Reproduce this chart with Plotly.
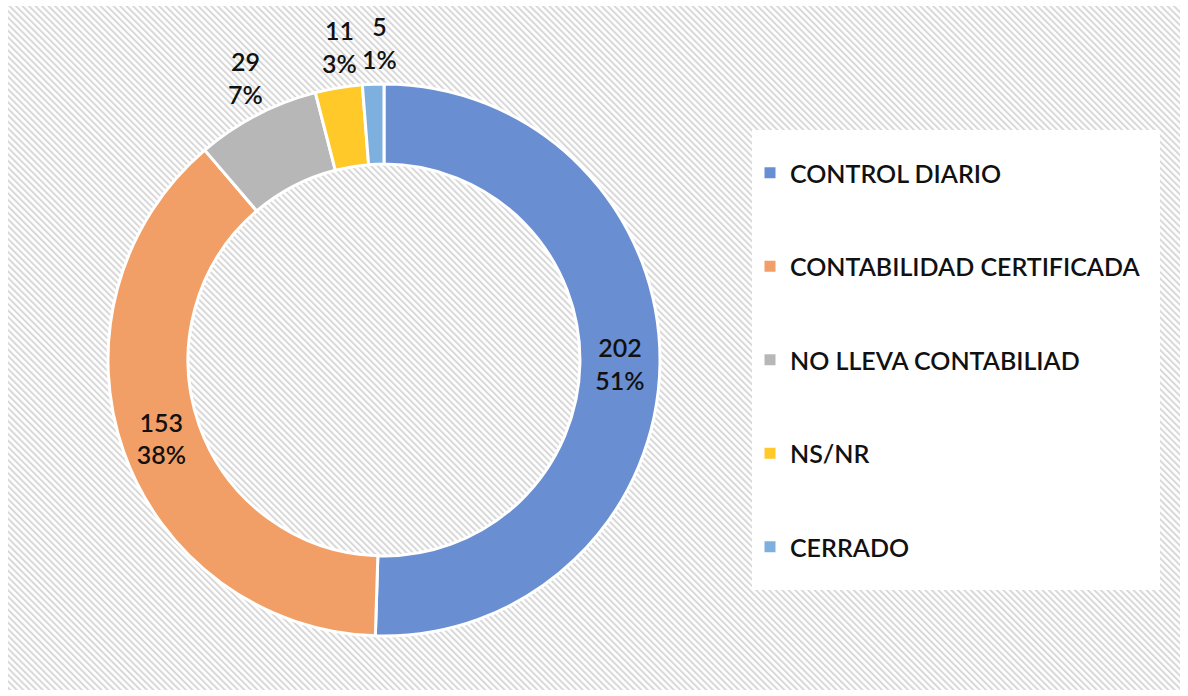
import base64
import math
import plotly.graph_objects as go

# ---- data ----
categories = ["CONTROL DIARIO", "CONTABILIDAD CERTIFICADA", "NO LLEVA CONTABILIAD", "NS/NR", "CERRADO"]
values = [202, 153, 29, 11, 5]
colors = ["#6A8ED2", "#F19F66", "#B7B7B7", "#FFC929", "#7EB0DF"]
label_inside = [True, True, False, False, False]

total = sum(values)
pct_labels = [f"{int(v * 100 / total + 0.5)}%" for v in values]

W, H = 1188, 696
FONT = "Lato"
FS = 25
FW = 600
TXT = "#111111"

# hatched background as svg
svg = f"""<svg xmlns='http://www.w3.org/2000/svg' width='1172' height='684'>
<defs><pattern id='p' width='4.6' height='4.6' patternUnits='userSpaceOnUse' patternTransform='rotate(-45)'>
<rect x='0' y='0' width='4.6' height='4.6' fill='#ffffff'/>
<rect x='0' y='0' width='2.0' height='4.6' fill='#d8d8d8'/></pattern></defs>
<rect x='0' y='0' width='1172' height='684' fill='url(#p)'/></svg>"""
src = "data:image/svg+xml;base64," + base64.b64encode(svg.encode()).decode()

cx, cy, R = 384, 360, 276

texts = [f"{v}<br>{p}" if ins else "" for v, p, ins in zip(values, pct_labels, label_inside)]

fig = go.Figure()
fig.add_trace(go.Pie(
    labels=categories,
    values=values,
    customdata=pct_labels,
    text=texts,
    hole=0.71,
    sort=False,
    direction="clockwise",
    rotation=0,
    marker=dict(colors=colors, line=dict(color="white", width=3)),
    texttemplate="%{text}",
    textposition="inside",
    insidetextorientation="horizontal",
    textfont=dict(family=FONT, size=FS, color=TXT, weight=FW),
    showlegend=False,
    domain=dict(x=[(cx - R) / W, (cx + R) / W], y=[1 - (cy + R) / H, 1 - (cy - R) / H]),
    hovertemplate="%{label}<br>%{value} (%{customdata})<extra></extra>",
))

# outside labels for the small slices, placed at their mid-angle
annotations = []
cum = 0
for v, p, ins in zip(values, pct_labels, label_inside):
    mid = (cum + v / 2) / total * 2 * math.pi
    cum += v
    if ins:
        continue
    r_lab = 318
    x = cx + r_lab * math.sin(mid)
    y = cy - r_lab * math.cos(mid)
    annotations.append(dict(
        x=x / W, y=1 - y / H, xref="paper", yref="paper", showarrow=False,
        text=f"{v}<br>{p}", font=dict(family=FONT, size=FS, color=TXT, weight=FW),
        xanchor="center", yanchor="middle", align="center", xshift=8,
    ))

# legend entries
for name, col in zip(categories, colors):
    fig.add_trace(go.Scatter(
        x=[None], y=[None], mode="markers", name=name, legendgroup=name,
        marker=dict(symbol="square", size=11, color=col),
        hoverinfo="skip",
    ))

fig.update_layout(
    width=W, height=H,
    margin=dict(l=0, r=0, t=0, b=0, autoexpand=False),
    paper_bgcolor="white",
    plot_bgcolor="rgba(0,0,0,0)",
    xaxis=dict(visible=False),
    yaxis=dict(visible=False),
    font=dict(family=FONT, color=TXT),
    legend=dict(
        x=750 / W, xanchor="left", y=1 - 150 / H, yanchor="top",
        bgcolor="rgba(0,0,0,0)",
        font=dict(family=FONT, size=FS, color=TXT, weight=FW),
        traceorder="grouped",
        tracegroupgap=58,
    ),
    annotations=annotations,
    images=[dict(source=src, xref="paper", yref="paper", x=8 / W, y=1 - 6 / H,
                 sizex=(1180 - 8) / W, sizey=(690 - 6) / H, sizing="stretch",
                 xanchor="left", yanchor="top", layer="below")],
    shapes=[dict(type="rect", xref="paper", yref="paper", x0=752 / W, x1=1160 / W,
                 y0=1 - 590 / H, y1=1 - 130 / H, fillcolor="white", line=dict(width=0),
                 layer="below")],
)

fig.write_html("out.html", config={"displayModeBar": False},
               post_script="document.body.style.margin='0';")
